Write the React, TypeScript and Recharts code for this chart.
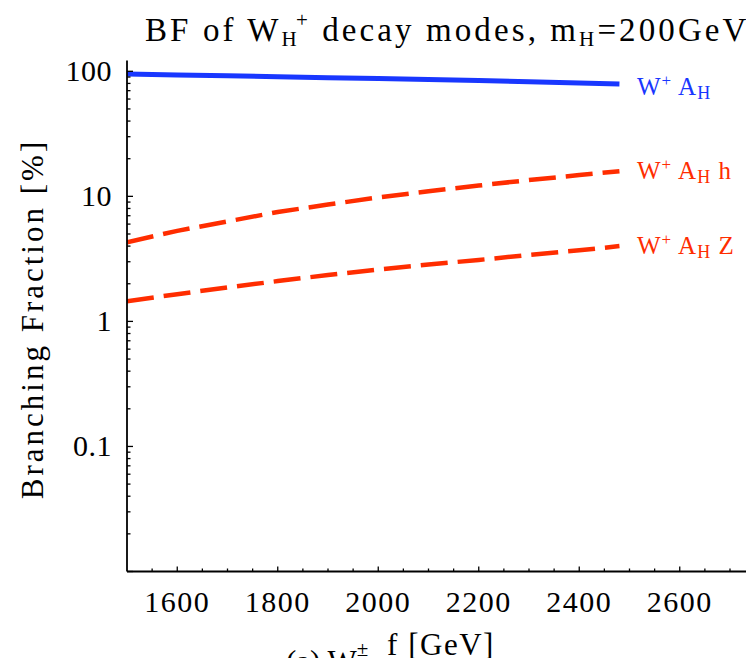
import React from 'react';
import { LineChart, Line, XAxis, YAxis } from 'recharts';

// f [GeV]
const fValues = [1500, 1600, 1700, 1800, 1900, 2000, 2100, 2200, 2300, 2400, 2480];
// Branching fractions [%]
const bfWA = [95, 93.5, 92, 90.5, 89, 87.5, 86, 84.5, 82.5, 80.5, 79];
const bfWAh = [4.3, 5.3, 6.3, 7.5, 8.6, 9.8, 11.0, 12.2, 13.5, 14.8, 15.9];
const bfWAZ = [1.45, 1.65, 1.87, 2.1, 2.35, 2.6, 2.85, 3.1, 3.4, 3.7, 4.0];

const xMajorTicks = [1600, 1800, 2000, 2200, 2400, 2600, 2800, 3000];
const xTickLabels = ['1600', '1800', '2000', '2200', '2400', '2600', '', ''];
const xMinorTicks = [1550, 1650, 1700, 1750, 1850, 1900, 1950, 2050, 2100, 2150, 2250, 2300, 2350, 2450, 2500, 2550, 2650, 2700, 2750, 2850, 2900, 2950];
const yMajorTicks = [0.01, 0.1, 1, 10, 100];
const yTickLabels = ['', '0.1', '1', '10', '100'];
const yMinorMantissas = [2, 3, 4, 5, 6, 7, 8, 9];

const BLUE = '#1937ff';
const RED = '#ff2d00';
const FONT = '"Liberation Serif", "Times New Roman", serif';

const data = fValues.map((f, i) => ({ f, a: bfWA[i], ah: bfWAh[i], az: bfWAZ[i] }));

const xTicks = [...xMajorTicks, ...xMinorTicks].sort((a, b) => a - b);
const yMinorTicks: number[] = [];
yMajorTicks.slice(0, 4).forEach((d) => yMinorMantissas.forEach((m) => yMinorTicks.push(+(d * m).toPrecision(3))));
const yTicks = [...yMajorTicks, ...yMinorTicks].sort((a, b) => a - b);

const XTick = (props: any) => {
  const { x, y, payload } = props;
  const v = payload.value;
  const idx = xMajorTicks.indexOf(v);
  const major = idx >= 0;
  const label = major ? xTickLabels[idx] : '';
  return (
    <g>
      <line x1={x} x2={x} y1={y} y2={y - (major ? 5 : 3)} stroke="#000" strokeWidth={1.3} />
      {label !== '' && (
        <text x={x} y={y + 40} textAnchor="middle" fontSize={30} letterSpacing={1.5} fontFamily={FONT} fill="#000">
          {label}
        </text>
      )}
    </g>
  );
};

const YTick = (props: any) => {
  const { x, y, payload } = props;
  const v = payload.value;
  const idx = yMajorTicks.indexOf(v);
  const major = idx >= 0;
  const label = major ? yTickLabels[idx] : '';
  return (
    <g>
      <line x1={x} x2={x + (major ? 6 : 3.5)} y1={y} y2={y} stroke="#000" strokeWidth={1.3} />
      {label !== '' && (
        <text x={x - 15} y={y + 10} textAnchor="end" fontSize={30} letterSpacing={0.5} fontFamily={FONT} fill="#000">
          {label}
        </text>
      )}
    </g>
  );
};

const SeriesLabel = ({ x, y, color, tail }: { x: number; y: number; color: string; tail: string }) => (
  <text x={x} y={y} fontSize={25} letterSpacing={1} fontFamily={FONT} fill={color}>
    W
    <tspan fontSize={17} dy={-9}>+</tspan>
    <tspan dy={9}> A</tspan>
    <tspan fontSize={18} dy={4}>H</tspan>
    <tspan dy={-4}>{tail}</tspan>
  </text>
);

export default function App() {
  return (
    <div style={{ position: 'relative', width: 746, height: 650, overflow: 'hidden', background: '#fff' }}>
      <LineChart
        width={900}
        height={700}
        data={data}
        margin={{ top: 52.5, right: 27.25, bottom: 106.5, left: 59 }}
      >
        <XAxis
          xAxisId="main"
          type="number"
          dataKey="f"
          domain={[1500, 3000]}
          allowDataOverflow
          ticks={xTicks}
          interval={0}
          tickSize={0}
          tickMargin={0}
          tickLine={false}
          axisLine={{ stroke: '#000', strokeWidth: 1.8 }}
          tick={<XTick />}
          height={30}
        />
        <XAxis
          xAxisId="top"
          orientation="top"
          type="number"
          dataKey="f"
          domain={[1500, 3000]}
          allowDataOverflow
          tick={false}
          tickLine={false}
          axisLine={{ stroke: '#000', strokeWidth: 1.8 }}
          height={0}
        />
        <YAxis
          type="number"
          scale="log"
          domain={[0.01, 122]}
          allowDataOverflow
          ticks={yTicks}
          interval={0}
          tickSize={0}
          tickMargin={0}
          tickLine={false}
          axisLine={{ stroke: '#000', strokeWidth: 1.8 }}
          tick={<YTick />}
          width={60}
        />
        <Line xAxisId="main" type="linear" dataKey="a" stroke={BLUE} strokeWidth={5} dot={false} isAnimationActive={false} />
        <Line xAxisId="main" type="linear" dataKey="ah" stroke={RED} strokeWidth={4.5} strokeDasharray="27 10" dot={false} isAnimationActive={false} />
        <Line xAxisId="main" type="linear" dataKey="az" stroke={RED} strokeWidth={4.5} strokeDasharray="27 10" dot={false} isAnimationActive={false} />
      </LineChart>
      <svg width={746} height={650} style={{ position: 'absolute', left: 0, top: 0, pointerEvents: 'none' }}>
        <text x={137} y={32.7} fontSize={33} letterSpacing={3.1} fontFamily={FONT} fill="#000">
          BF of W
          <tspan fontSize={21} dy={5}>H</tspan>
          <tspan fontSize={21} dx={-4} dy={-19}>+</tspan>
          <tspan dy={14}> decay modes, m</tspan>
          <tspan fontSize={21} dy={5}>H</tspan>
          <tspan dy={-5}>=200GeV</tspan>
        </text>
        <text
          x={35}
          y={311}
          fontSize={31}
          letterSpacing={3}
          fontFamily={FONT}
          fill="#000"
          textAnchor="middle"
          transform="rotate(-90, 35, 311)"
        >
          Branching Fraction [%]
        </text>
        <SeriesLabel x={629} y={87} color={BLUE} tail="" />
        <SeriesLabel x={629} y={171} color={RED} tail=" h" />
        <SeriesLabel x={629} y={246} color={RED} tail=" Z" />
        <text x={433} y={647} fontSize={31} letterSpacing={1.5} fontFamily={FONT} fill="#000" textAnchor="middle">
          f [GeV]
        </text>
        <text x={278} y={664} fontSize={31} fontFamily={FONT} fill="#000">
          (a) W
          <tspan fontSize={21} dy={-16}>±</tspan>
          <tspan fontSize={21} dy={20}>H</tspan>
        </text>
      </svg>
    </div>
  );
}
